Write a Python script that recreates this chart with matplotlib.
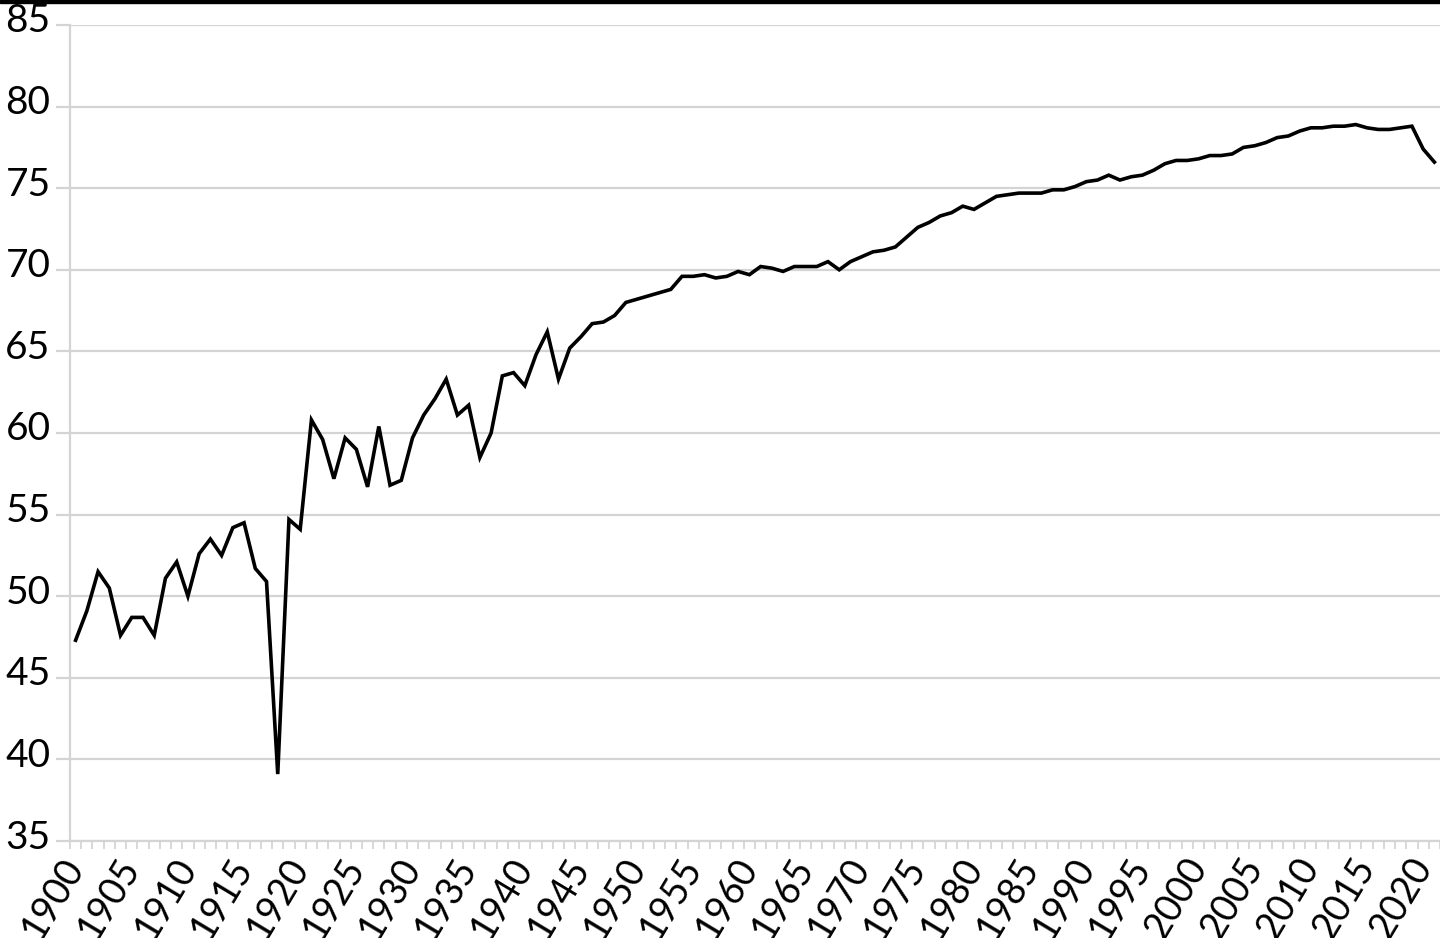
import numpy as np
import matplotlib
matplotlib.use("Agg")
import matplotlib.pyplot as plt
import matplotlib.transforms as mtransforms
from matplotlib.patches import Rectangle

# Esperança de vida por ano
anos = list(range(1900, 2022))
esperanca = [
    47.3, 49.1, 51.5, 50.5, 47.6, 48.7, 48.7, 47.6, 51.1, 52.1,   # 1900-1909
    50.0, 52.6, 53.5, 52.5, 54.2, 54.5, 51.7, 50.9, 39.1, 54.7,   # 1910-1919
    54.1, 60.8, 59.6, 57.2, 59.7, 59.0, 56.7, 60.4, 56.8, 57.1,   # 1920-1929
    59.7, 61.1, 62.1, 63.3, 61.1, 61.7, 58.5, 60.0, 63.5, 63.7,   # 1930-1939
    62.9, 64.8, 66.2, 63.3, 65.2, 65.9, 66.7, 66.8, 67.2, 68.0,   # 1940-1949
    68.2, 68.4, 68.6, 68.8, 69.6, 69.6, 69.7, 69.5, 69.6, 69.9,   # 1950-1959
    69.7, 70.2, 70.1, 69.9, 70.2, 70.2, 70.2, 70.5, 70.0, 70.5,   # 1960-1969
    70.8, 71.1, 71.2, 71.4, 72.0, 72.6, 72.9, 73.3, 73.5, 73.9,   # 1970-1979
    73.7, 74.1, 74.5, 74.6, 74.7, 74.7, 74.7, 74.9, 74.9, 75.1,   # 1980-1989
    75.4, 75.5, 75.8, 75.5, 75.7, 75.8, 76.1, 76.5, 76.7, 76.7,   # 1990-1999
    76.8, 77.0, 77.0, 77.1, 77.5, 77.6, 77.8, 78.1, 78.2, 78.5,   # 2000-2009
    78.7, 78.7, 78.8, 78.8, 78.9, 78.7, 78.6, 78.6, 78.7, 78.8,   # 2010-2019
    77.4, 76.6,                                                   # 2020-2021
]
anos_rotulo = list(range(1900, 2021, 5))
valores_y = list(range(35, 90, 5))

plt.rcParams['font.family'] = ['Lato', 'DejaVu Sans']

fig = plt.figure(figsize=(14.4, 9.38), dpi=100)
ax = fig.add_axes([70 / 1440, (938 - 841) / 938, 1 - 70 / 1440, (841 - 25) / 938])

cinza = '#d4d4d4'
ax.plot(anos, esperanca, color='black', linewidth=2.6, solid_joinstyle='miter', zorder=3)

ax.set_xlim(1899.5, 2021.5)
ax.set_ylim(35, 85)
ax.set_yticks(valores_y)
ax.set_yticklabels([str(v) for v in valores_y])
ax.grid(axis='y', color=cinza, linewidth=1.6)
ax.set_axisbelow(True)

# rótulos a cada 5 anos, marcas entre categorias
ax.set_xticks(anos_rotulo)
ax.set_xticklabels([str(a) for a in anos_rotulo], rotation=59, ha='right', va='center',
                   rotation_mode='anchor')
ax.set_xticks(np.arange(1899.5, 2022, 1), minor=True)
ax.tick_params(axis='x', which='major', length=0, pad=14, labelsize=27)
ax.tick_params(axis='x', which='minor', length=6, width=1.3, color=cinza, direction='out')
ax.tick_params(axis='y', length=10, width=1.6, color=cinza, pad=4, labelsize=28)

# rótulos do eixo y ligeiramente acima das linhas
desloca = mtransforms.ScaledTranslation(0, 7 / 100, fig.dpi_scale_trans)
for rotulo in ax.get_yticklabels():
    rotulo.set_transform(rotulo.get_transform() + desloca)

for lado in ['top', 'right']:
    ax.spines[lado].set_visible(False)
ax.spines['left'].set_color(cinza)
ax.spines['left'].set_linewidth(1.6)
ax.spines['bottom'].set_color(cinza)
ax.spines['bottom'].set_linewidth(1.6)

# barra preta no topo
fig.add_artist(Rectangle((0, 1 - 3 / 938), 1, 3 / 938, transform=fig.transFigure,
                         color='black', zorder=10))

fig.savefig('out.png', dpi=100)
